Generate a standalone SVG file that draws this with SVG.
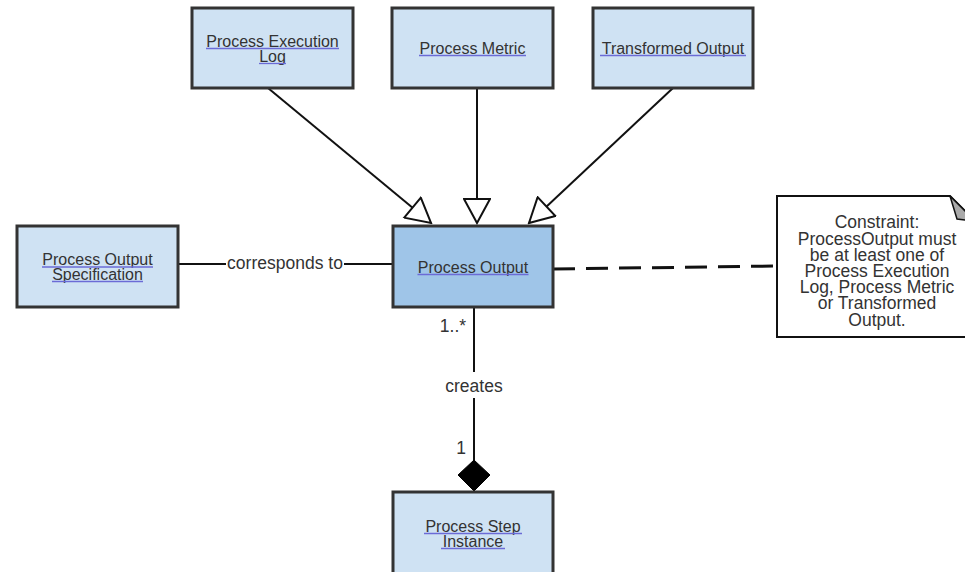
<svg xmlns="http://www.w3.org/2000/svg" width="965" height="572" viewBox="0 0 965 572">
<style>
.box{fill:#cfe2f3;stroke:#333;stroke-width:3}
.main{fill:#9fc5e8}
.lbl{font-family:"Liberation Sans",Arial,sans-serif;font-size:16px;fill:#333;text-anchor:middle}
.ul{stroke:#6b6bd6;stroke-width:1.3}
.conn{stroke:#111;stroke-width:2;fill:none}
.clbl{font-family:"Liberation Sans",Arial,sans-serif;font-size:17.5px;fill:#333;text-anchor:middle}
.note{font-family:"Liberation Sans",Arial,sans-serif;font-size:17.5px;fill:#333;text-anchor:middle}
</style>
<defs>
<marker id="gen" viewBox="0 0 28 28" refX="26" refY="14" markerWidth="28" markerHeight="28" markerUnits="userSpaceOnUse" orient="auto">
<path d="M2,1 L26,14 L2,27 Z" fill="#fff" stroke="#111" stroke-width="2"/>
</marker>
</defs>
<rect width="965" height="572" fill="#fff"/>
<g id="connectors">
<line class="conn" x1="268" y1="88" x2="431" y2="223" marker-end="url(#gen)"/>
<line class="conn" x1="477" y1="88" x2="477" y2="223" marker-end="url(#gen)"/>
<line class="conn" x1="673" y1="88" x2="529" y2="223" marker-end="url(#gen)"/>
<line class="conn" x1="178" y1="264" x2="393" y2="264"/>
<rect x="226" y="252" width="118" height="22" fill="#fff"/>
<text class="clbl" x="285" y="269">corresponds to</text>
<line x1="553" y1="269" x2="777" y2="266" stroke="#111" stroke-width="3" stroke-dasharray="22,11"/>
<line class="conn" x1="474" y1="307" x2="474" y2="462"/>
<rect x="440" y="372" width="68" height="26" fill="#fff"/>
<text class="clbl" x="474" y="392">creates</text>
<text class="clbl" x="453" y="332">1..*</text>
<text class="clbl" x="461" y="454">1</text>
<path d="M474,460 L490,475 L474,491 L458,475 Z" fill="#000" stroke="#000" stroke-width="1"/>
</g>
<g id="process-execution-log">
<rect class="box" x="192" y="8" width="161" height="80"/>
<text class="lbl" x="272.5" y="46.5">Process Execution</text>
<text class="lbl" x="272.5" y="61.5">Log</text>
<line class="ul" x1="206" y1="48.5" x2="339" y2="48.5"/>
<line class="ul" x1="259" y1="63.5" x2="286" y2="63.5"/>
</g>
<g id="process-metric">
<rect class="box" x="392" y="8" width="161" height="80"/>
<text class="lbl" x="472.5" y="53.5">Process Metric</text>
<line class="ul" x1="419" y1="55.5" x2="526" y2="55.5"/>
</g>
<g id="transformed-output">
<rect class="box" x="593" y="8" width="160" height="80"/>
<text class="lbl" x="673" y="53.5">Transformed Output</text>
<line class="ul" x1="600" y1="55.5" x2="746" y2="55.5"/>
</g>
<g id="process-output-specification">
<rect class="box" x="17" y="226" width="161" height="81"/>
<text class="lbl" x="97.5" y="265">Process Output</text>
<text class="lbl" x="97.5" y="279.5">Specification</text>
<line class="ul" x1="42" y1="267" x2="153" y2="267"/>
<line class="ul" x1="52" y1="281.5" x2="143" y2="281.5"/>
</g>
<g id="process-output">
<rect class="box main" x="393" y="226" width="160" height="81"/>
<text class="lbl" x="473" y="272.5">Process Output</text>
<line class="ul" x1="417.5" y1="274.5" x2="528.5" y2="274.5"/>
</g>
<g id="process-step-instance">
<rect class="box" x="393" y="492" width="160" height="82"/>
<text class="lbl" x="473" y="531.5">Process Step</text>
<text class="lbl" x="473" y="546.5">Instance</text>
<line class="ul" x1="424" y1="533.5" x2="522" y2="533.5"/>
<line class="ul" x1="441" y1="548.5" x2="505" y2="548.5"/>
</g>
<g id="constraint-note">
<path d="M777,196 L950,196 L975,221 L975,337 L777,337 Z" fill="#fff" stroke="#111" stroke-width="2"/>
<path d="M950,196 L957,219 L975,221 Z" fill="#aaa" stroke="#111" stroke-width="1.5"/>
<text class="note" x="877" y="228.3">Constraint:</text>
<text class="note" x="877" y="244.5">ProcessOutput must</text>
<text class="note" x="877" y="260.7">be at least one of</text>
<text class="note" x="877" y="276.9">Process Execution</text>
<text class="note" x="877" y="293.1">Log, Process Metric</text>
<text class="note" x="877" y="309.3">or Transformed</text>
<text class="note" x="877" y="325.5">Output.</text>
</g>
</svg>
